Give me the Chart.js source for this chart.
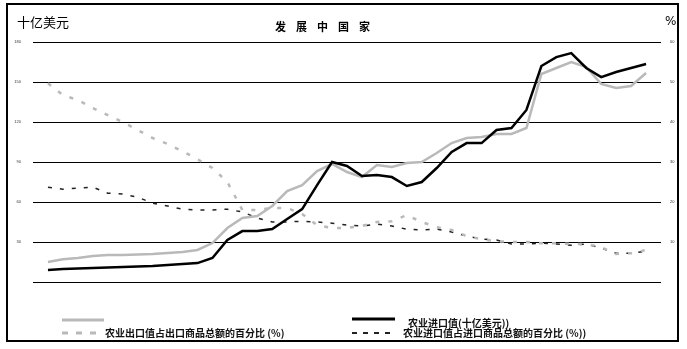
<!DOCTYPE html>
<html>
<head>
<meta charset="utf-8">
<script src="https://cdn.jsdelivr.net/npm/chart.js@4.4.1/dist/chart.umd.min.js"></script>
<style>
  html, body { margin: 0; padding: 0; background: #fff; }
  #wrap { width: 687px; height: 349px; }
</style>
</head>
<body>
<div id="wrap"><canvas id="chart" width="687" height="349"></canvas></div>
<script>
// ============ DATA ============
const years = [1961, 1962, 1963, 1964, 1965, 1966, 1967, 1968, 1969, 1970,
  1971, 1972, 1973, 1974, 1975, 1976, 1977, 1978, 1979, 1980,
  1981, 1982, 1983, 1984, 1985, 1986, 1987, 1988, 1989, 1990,
  1991, 1992, 1993, 1994, 1995, 1996, 1997, 1998, 1999, 2000, 2001];

// 十亿美元 (left axis)
const agExports = [15, 17, 18, 19.5, 20.2, 20.2, 20.6, 21, 21.7, 22.5,
  24, 29.2, 40.5, 48, 49.5, 57, 68.2, 72.7, 83.2, 88.5,
  82.5, 78.7, 87.7, 86.2, 89.2, 90, 96.7, 104.2, 108, 108.7,
  111, 111, 115.5, 156, 160.5, 165, 161.2, 148.5, 145.5, 147, 156.7];

const agImports = [9, 9.7, 10.1, 10.5, 10.9, 11.2, 11.6, 12, 12.7, 13.5,
  14.2, 18, 31.5, 38.2, 38.2, 39.7, 47.2, 54.7, 72.7, 90,
  87, 79.5, 80.2, 78.7, 72, 75, 85.5, 97.5, 104.2, 104.2,
  114, 115.5, 129, 162, 168.7, 171.7, 160.5, 153.7, 157.5, 160.5, 163.5];

// % (right axis)
const exportShare = [49.7, 46.7, 45.5, 43.5, 41.7, 40, 38, 36, 34.5, 32.7,
  30.7, 28.5, 25, 18, 18, 18.5, 18.5, 17, 14.2, 13.5,
  13.5, 14, 15, 15.2, 16.7, 15, 13.7, 13, 11.5, 10.7,
  10.2, 10, 10, 9.7, 9.7, 9.5, 9.5, 8.7, 7, 7.2, 8];

const importShare = [23.7, 23.2, 23.5, 23.7, 22.2, 22, 21.2, 19.7, 19, 18.2,
  18, 18, 18.2, 17.5, 16, 15, 15, 15.2, 15, 14.7,
  14.2, 14, 14.5, 14, 13.2, 13, 13.2, 12.5, 11.5, 10.7,
  10.5, 9.5, 9.5, 9.7, 9.5, 9.2, 9.5, 8.5, 7.2, 7.2, 7.7];

const leftTicks = [0, 30, 60, 90, 120, 150, 180];
const rightTicks = [0, 10, 20, 30, 40, 50, 60];

const title = '发展中国家';
const leftUnit = '十亿美元';
const rightUnit = '%';
const legendLabels = [
  '',
  '农业出口值占出口商品总额的百分比 (%)',
  '农业进口值(十亿美元))',
  '农业进口值占进口商品总额的百分比 (%))',
];

const GREY = '#b9b9b9';
const CJK = '"Noto Sans CJK SC", sans-serif';

const pts = (arr) => years.map((y, i) => ({ x: y, y: arr[i] }));

// ============ PLUGIN: frame, titles, legend ============
const decor = {
  id: 'decor',
  beforeDraw(chart) {
    const ctx = chart.ctx;
    ctx.save();
    ctx.fillStyle = '#fff';
    ctx.fillRect(0, 0, chart.width, chart.height);
    ctx.restore();
  },
  afterDraw(chart) {
    const ctx = chart.ctx;
    ctx.save();

    // frame
    ctx.strokeStyle = '#000';
    ctx.lineWidth = 2;
    ctx.strokeRect(7, 4, 671, 337);

    // title
    ctx.fillStyle = '#000';
    ctx.font = 'bold 11px ' + CJK;
    ctx.textBaseline = 'middle';
    ctx.textAlign = 'left';
    ctx.letterSpacing = '10px';
    ctx.fillText(title, 275, 27);
    ctx.letterSpacing = '0px';

    // units
    ctx.font = '13px ' + CJK;
    ctx.fillText(leftUnit, 17, 22);
    ctx.font = '12px "DejaVu Sans", sans-serif';
    ctx.fillText(rightUnit, 665, 22);

    // legend
    const ds = chart.data.datasets;
    const items = [
      { d: ds[1], x0: 62, x1: 104, y: 320, tx: 0, ty: 0, dash: [] },
      { d: ds[2], x0: 62, x1: 98, y: 333, tx: 105, ty: 333, dash: [6, 8] },
      { d: ds[0], x0: 352, x1: 395, y: 319, tx: 408, ty: 323, dash: [] },
      { d: ds[3], x0: 352, x1: 392, y: 333, tx: 403, ty: 333, dash: [5, 6] },
    ];
    items.forEach((it, i) => {
      ctx.beginPath();
      ctx.strokeStyle = it.d.borderColor;
      ctx.lineWidth = it.d.borderWidth + 0.5;
      ctx.setLineDash(it.dash);
      ctx.moveTo(it.x0, it.y);
      ctx.lineTo(it.x1, it.y);
      ctx.stroke();
      ctx.setLineDash([]);
      if (legendLabels[i]) {
        ctx.fillStyle = '#111';
        ctx.font = 'bold 10px ' + CJK;
        ctx.fillText(legendLabels[i], it.tx, it.ty);
      }
    });
    ctx.restore();
  }
};

// ============ CHART ============
new Chart(document.getElementById('chart').getContext('2d'), {
  type: 'line',
  data: {
    datasets: [
      { label: legendLabels[2], data: pts(agImports), yAxisID: 'y', borderColor: '#000', borderWidth: 2.5, order: 0 },
      { label: '农业出口值(十亿美元)', data: pts(agExports), yAxisID: 'y', borderColor: GREY, borderWidth: 2.5, order: 1 },
      { label: legendLabels[1], data: pts(exportShare), yAxisID: 'y2', borderColor: GREY, borderWidth: 2.5, borderDash: [4, 9], order: 2 },
      { label: legendLabels[3], data: pts(importShare), yAxisID: 'y2', borderColor: '#222', borderWidth: 1.5, borderDash: [4, 8], order: 3 },
    ]
  },
  options: {
    responsive: false,
    animation: false,
    devicePixelRatio: 1,
    layout: { padding: { top: 42, bottom: 67, left: 0, right: 0 } },
    elements: { point: { radius: 0 }, line: { tension: 0, fill: false } },
    plugins: { legend: { display: false }, tooltip: { enabled: false }, title: { display: false } },
    scales: {
      x: { type: 'linear', min: 1960, max: 2002, display: false },
      y: {
        position: 'left', min: 0, max: 180,
        afterFit: (s) => { s.width = 33; },
        afterBuildTicks: (s) => { s.ticks = leftTicks.map(v => ({ value: v })); },
        border: { display: false },
        grid: { color: '#000', lineWidth: 1, drawTicks: false },
        ticks: { padding: 12, color: '#333', font: { size: 4 }, callback: (v) => v === 0 ? '' : v }
      },
      y2: {
        position: 'right', min: 0, max: 60,
        afterFit: (s) => { s.width = 26; },
        afterBuildTicks: (s) => { s.ticks = rightTicks.map(v => ({ value: v })); },
        border: { display: false },
        grid: { display: false, drawTicks: false },
        ticks: { padding: 9, color: '#333', font: { size: 4 }, callback: (v) => v === 0 ? '' : v }
      }
    }
  },
  plugins: [decor]
});
</script>
</body>
</html>
